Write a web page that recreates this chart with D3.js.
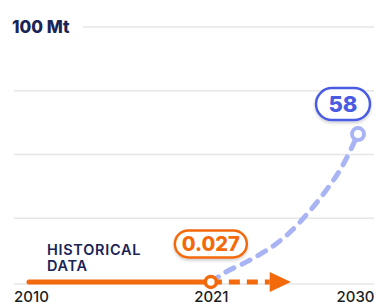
<!DOCTYPE html>
<html>
<head>
<meta charset="utf-8">
<script src="https://cdn.jsdelivr.net/npm/d3@7"></script>
<style>
  body { margin: 0; background: #fff; }
  svg { display: block; font-family: Inter, "Open Sans", sans-serif; }
</style>
</head>
<body>
<div id="plot"></div>
<script>
// data
const yTicks = [0, 25, 50, 75, 100];
const xTickYears = [2010, 2021, 2030];
const historicalYears = [2010, 2021];
const historicalValues = [0, 0.027];
const projectionYears = [2021, 2022, 2023, 2024, 2025, 2026, 2027, 2028, 2029, 2030];
const projectionValues = [0.027, 4.2, 7.3, 10.8, 15, 20.5, 27.5, 35.5, 45, 58];
const trendYears = [2021, 2024.6, 2025.9];   // dashed orange arrow: start, arrowhead base, tip
const unitLabel = "100 Mt";
const historicalLabel = ["HISTORICAL", "DATA"];

const width = 374, height = 306;
const orange = "#f26a0c", navy = "#1a2456", blue = "#4a5ce2", lightBlue = "#a9b4f5";

const svg = d3.select("#plot")
    .append("svg")
    .attr("width", width)
    .attr("height", height);

const defs = svg.append("defs");
const shadow = defs.append("filter").attr("id", "shadow")
    .attr("x", "-20%").attr("y", "-30%").attr("width", "140%").attr("height", "170%");
shadow.append("feDropShadow")
    .attr("dx", 0).attr("dy", 2).attr("stdDeviation", 1.5)
    .attr("flood-color", "#000").attr("flood-opacity", 0.18);

const x = d3.scaleLinear().domain([2010, 2030]).range([31, 358]);
const y = d3.scaleLinear().domain([0, 100]).range([282, 27]);

// gridlines
svg.append("g")
    .selectAll("line")
    .data(yTicks)
    .join("line")
    .attr("x1", d => d === 100 ? 83 : 14)
    .attr("x2", width)
    .attr("y1", d => y(d) + (d === 0 ? 2 : 0))
    .attr("y2", d => y(d) + (d === 0 ? 2 : 0))
    .attr("stroke", "#e6e6e6")
    .attr("stroke-width", 1.5);

svg.append("text")
    .attr("x", 12)
    .attr("y", y(100) + 6)
    .attr("fill", navy)
    .style("font-size", "17px")
    .style("font-weight", 800)
    .text(unitLabel);

// x axis
const xAxis = svg.append("g")
    .attr("transform", `translate(0,${y(0) + 4})`)
    .call(d3.axisBottom(x).tickValues(xTickYears).tickFormat(d3.format("d")).tickSize(0).tickPadding(5));
xAxis.select(".domain").remove();
xAxis.selectAll("text")
    .attr("fill", "#1e1e1e")
    .attr("dx", d => d === 2030 ? -3 : 0)
    .style("font-family", "Inter, 'Open Sans', sans-serif")
    .style("font-size", "15px")
    .style("font-weight", 500);

// projection (dashed blue curve)
const projData = projectionYears.map((yr, i) => ({year: yr, value: projectionValues[i]}));
svg.append("path")
    .datum(projData)
    .attr("fill", "none")
    .attr("stroke", lightBlue)
    .attr("stroke-width", 5)
    .attr("stroke-linecap", "round")
    .attr("stroke-dasharray", "9 9")
    .attr("d", d3.line().x(d => x(d.year)).y(d => y(d.value)).curve(d3.curveMonotoneX));

// historical line
const histData = historicalYears.map((yr, i) => ({year: yr, value: historicalValues[i]}));
svg.append("path")
    .datum(histData)
    .attr("fill", "none")
    .attr("stroke", orange)
    .attr("stroke-width", 5)
    .attr("stroke-linecap", "round")
    .attr("d", d3.line().x(d => x(d.year) - 2).y(d => y(d.value)));

// dashed orange arrow
const arrowY = y(historicalValues[1]);
svg.append("line")
    .attr("x1", x(trendYears[0]))
    .attr("x2", x(trendYears[1]))
    .attr("y1", arrowY)
    .attr("y2", arrowY)
    .attr("stroke", orange)
    .attr("stroke-width", 5)
    .attr("stroke-dasharray", "11 7");
svg.append("path")
    .attr("d", `M${x(trendYears[1])},${arrowY - 10} L${x(trendYears[2])},${arrowY} L${x(trendYears[1])},${arrowY + 10} Z`)
    .attr("fill", orange);

// end points
svg.append("circle")
    .attr("cx", x(2021)).attr("cy", y(historicalValues[1]))
    .attr("r", 5.5)
    .attr("fill", "#fff").attr("stroke", orange).attr("stroke-width", 3.5);
svg.append("circle")
    .attr("cx", x(2030)).attr("cy", y(projectionValues[projectionValues.length - 1]))
    .attr("r", 6)
    .attr("fill", "#fff").attr("stroke", lightBlue).attr("stroke-width", 4);

// value pills
function pill(cx, cy, w, h, color, fontSize, label) {
    const g = svg.append("g");
    g.append("rect")
        .attr("x", cx - w / 2).attr("y", cy - h / 2)
        .attr("width", w).attr("height", h)
        .attr("rx", h / 2)
        .attr("fill", "#fff")
        .attr("stroke", color)
        .attr("stroke-width", 2.5)
        .attr("filter", "url(#shadow)");
    g.append("text")
        .attr("x", cx).attr("y", cy)
        .attr("text-anchor", "middle")
        .attr("dominant-baseline", "central")
        .attr("fill", color)
        .style("font-size", fontSize + "px")
        .style("font-weight", 800)
        .text(label);
}
pill(x(2021), y(historicalValues[1]) - 38, 72, 27, orange, 20, "0.027");
pill(x(2030) - 15, y(projectionValues[projectionValues.length - 1]) - 30, 54, 32, blue, 22, "58");

// historical label
svg.append("g")
    .selectAll("text")
    .data(historicalLabel)
    .join("text")
    .attr("x", 47)
    .attr("y", (d, i) => 254.5 + i * 16.5)
    .attr("fill", navy)
    .style("font-size", "14.5px")
    .style("font-weight", 600)
    .style("letter-spacing", "0.7px")
    .text(d => d);
</script>
</body>
</html>
